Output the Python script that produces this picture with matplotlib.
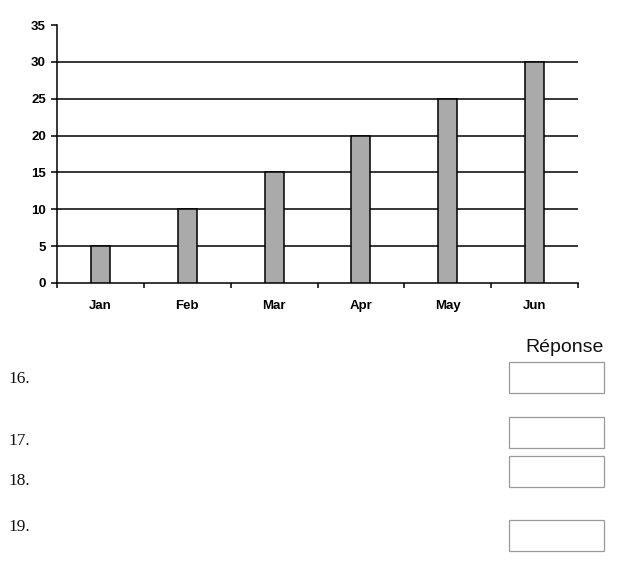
import matplotlib
matplotlib.use("Agg")
import matplotlib.pyplot as plt
from matplotlib.patches import Rectangle
import numpy as np

months = ["Jan", "Feb", "Mar", "Apr", "May", "Jun"]
values = [5, 10, 15, 20, 25, 30]
y_ticks = [0, 5, 10, 15, 20, 25, 30, 35]
question_labels = ["16.", "17.", "18.", "19."]
answer_header = "Réponse"

W, H = 620, 563
fig = plt.figure(figsize=(W / 100, H / 100), dpi=100)

def fx(px):
    return px / W

def fy(py):
    return 1 - py / H

# axes: left 57, right 578, top 25, bottom 283 (pixels)
ax = fig.add_axes([fx(57), fy(283), fx(578 - 57), (283 - 25) / H])

x = np.arange(len(months))
ax.bar(x, values, width=0.22, color="#aaaaaa", edgecolor="black",
       linewidth=1.1, zorder=3)

ax.set_xlim(-0.5, len(months) - 0.5)
ax.set_ylim(0, 35)
for v in y_ticks[1:-1]:
    ax.axhline(v, color="black", linewidth=1.1, zorder=1)

ax.spines["top"].set_visible(False)
ax.spines["right"].set_visible(False)
ax.spines["left"].set_linewidth(1.1)
ax.spines["bottom"].set_linewidth(1.1)

ax.set_yticks(y_ticks)
ax.set_yticklabels([str(v) for v in y_ticks], fontfamily="Liberation Sans",
                   fontweight="bold", fontsize=9.5)
ax.tick_params(axis="y", direction="out", length=4, width=1.1, pad=4)

ax.set_xticks(np.arange(-0.5, len(months), 1.0))
ax.set_xticklabels([])
ax.tick_params(axis="x", which="major", direction="out", length=3.5, width=1.1)
ax.set_xticks(x, minor=True)
ax.set_xticklabels(months, minor=True, fontfamily="Liberation Sans",
                   fontweight="bold", fontsize=9.5)
ax.tick_params(axis="x", which="minor", length=0, pad=12.5)

# answer section
fig.text(fx(604), fy(352), answer_header, ha="right", va="baseline",
         fontfamily="Liberation Sans", fontsize=14, color="#111111")

label_baselines = [383, 445, 485, 531]
for lab, yb in zip(question_labels, label_baselines):
    fig.text(fx(8), fy(yb), lab, ha="left", va="baseline",
             fontfamily="Liberation Serif", fontsize=12.5, color="#111111")

boxes = [(362, 393), (417, 448), (456, 487), (520, 551)]
for top, bot in boxes:
    fig.add_artist(Rectangle((fx(509), fy(bot)), fx(604 - 509), (bot - top) / H,
                             transform=fig.transFigure, facecolor="white",
                             edgecolor="#9a9a9a", linewidth=0.9))

fig.savefig("out.png", dpi=100)
